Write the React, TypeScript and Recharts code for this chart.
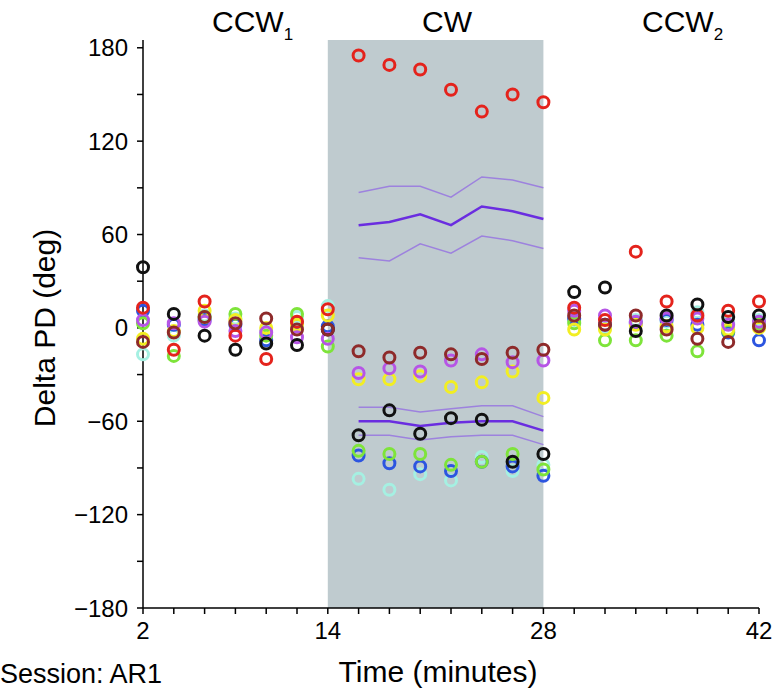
import React from "react";
import { ScatterChart, Scatter, XAxis, YAxis, ReferenceArea } from "recharts";

// time points (minutes), one value per unit per time point
const times = [2, 4, 6, 8, 10, 12, 14, 16, 18, 20, 22, 24, 26, 28, 30, 32, 34, 36, 38, 40, 42];

const redVals = [13, -14, 17, -5, -20, 4, 12, 175, 169, 166, 153, 139, 150, 145, 13, 5, 49, 17, 8, 11, 17];
const blackVals = [39, 9, -5, -14, -10, -11, -1, -69, -53, -68, -58, -59, -86, -81, 23, 26, -2, 8, 15, 7, 8];
const brownVals = [-9, -3, 7, 3, 6, -1, -1, -15, -19, -16, -17, -20, -16, -14, 8, 2, 8, -1, -7, -9, 1];
const purpleVals = [5, 3, 4, -2, -3, -6, -7, -29, -26, -28, -21, -17, -22, -21, 11, 8, 4, 6, 6, 2, 4];
const yellowVals = [-7, -2, 11, 5, 0, 2, 8, -33, -33, -31, -38, -35, -28, -45, -1, -1, 2, 1, 0, -1, 0];
const greenVals = [3, -18, 7, 9, -5, 9, -12, -79, -81, -81, -88, -86, -81, -91, 3, -8, -8, -5, -15, -2, 3];
const cyanVals = [-17, -5, 8, 6, -2, 7, 14, -97, -104, -94, -98, -83, -92, -88, 5, 0, 5, 4, 10, 3, 5];
const blueVals = [11, 2, 5, 2, -8, 3, 1, -82, -87, -89, -92, -86, -89, -95, 6, 2, 3, 5, 2, -3, -8];

// population mean +/- spread during CW
const cwTimes = [16, 18, 20, 22, 24, 26, 28];
const posUpper = [87, 91, 91, 84, 97, 95, 90];
const posMean = [66, 68, 73, 66, 78, 75, 70];
const posLower = [45, 43, 54, 48, 59, 56, 51];
const negUpper = [-51, -51, -54, -52, -50, -50, -57];
const negMean = [-60, -60, -63, -61, -60, -60, -66];
const negLower = [-69, -69, -72, -70, -69, -69, -75];

const xTicks = times;
const xLabels = [2, 14, 28, 42];
const yTicks = [-180, -150, -120, -90, -60, -30, 0, 30, 60, 90, 120, 150, 180];

const units = [
  { name: "cyan", color: "#a5f0e2", vals: cyanVals },
  { name: "blue", color: "#2c55e0", vals: blueVals },
  { name: "green", color: "#7ee43a", vals: greenVals },
  { name: "yellow", color: "#f2ee22", vals: yellowVals },
  { name: "purple", color: "#b655e6", vals: purpleVals },
  { name: "red", color: "#e4231c", vals: redVals },
  { name: "black", color: "#111111", vals: blackVals },
  { name: "brown", color: "#8e2a2a", vals: brownVals },
];

const lines = [
  { name: "posUpper", vals: posUpper, color: "#9d82de", w: 1.5 },
  { name: "posMean", vals: posMean, color: "#6a2de0", w: 2.5 },
  { name: "posLower", vals: posLower, color: "#9d82de", w: 1.5 },
  { name: "negUpper", vals: negUpper, color: "#9d82de", w: 1.5 },
  { name: "negMean", vals: negMean, color: "#6a2de0", w: 2.5 },
  { name: "negLower", vals: negLower, color: "#9d82de", w: 1.5 },
];

const FONT = '"Liberation Sans", Arial, Helvetica, sans-serif';

const ring = (color: string) => (props: any) =>
  <circle cx={props.cx} cy={props.cy} r={5.5} fill="none" stroke={color} strokeWidth={3} />;

const noDot = () => <g />;

export default function App() {
  return (
    <div style={{ position: "absolute", left: 0, top: 0, width: 773, height: 692, background: "#fff", fontFamily: FONT }}>
      <ScatterChart width={773} height={692} margin={{ top: 40, right: 14, bottom: 0, left: 0 }}>
        <XAxis
          type="number"
          dataKey="x"
          domain={[2, 42]}
          ticks={xTicks}
          interval={0}
          tickFormatter={(v: number) => (xLabels.includes(v) ? String(v) : "")}
          height={84}
          tickSize={6}
          tickMargin={8}
          axisLine={{ stroke: "#000", strokeWidth: 1.5 }}
          tickLine={{ stroke: "#000", strokeWidth: 1.5 }}
          tick={{ fill: "#000", fontSize: 24, fontFamily: FONT }}
        />
        <YAxis
          type="number"
          dataKey="y"
          domain={[-180, 185]}
          ticks={yTicks}
          interval={0}
          allowDataOverflow
          tickFormatter={(v: number) => (v % 60 === 0 ? String(v).replace("-", "\u2212") : "")}
          width={143}
          tickSize={6}
          tickMargin={9}
          axisLine={{ stroke: "#000", strokeWidth: 1.5 }}
          tickLine={{ stroke: "#000", strokeWidth: 1.5 }}
          tick={{ fill: "#000", fontSize: 24, fontFamily: FONT }}
        />
        <ReferenceArea x1={14} x2={28} y1={-180} y2={185} fill="#bfcbcf" fillOpacity={1} stroke="none" />
        {lines.map((l) => (
          <Scatter
            key={l.name}
            data={cwTimes.map((t, i) => ({ x: t, y: l.vals[i] }))}
            line={{ stroke: l.color, strokeWidth: l.w }}
            shape={noDot}
            isAnimationActive={false}
          />
        ))}
        {units.map((u) => (
          <Scatter
            key={u.name}
            data={times.map((t, i) => ({ x: t, y: u.vals[i] }))}
            shape={ring(u.color)}
            isAnimationActive={false}
          />
        ))}
      </ScatterChart>
      <svg width={773} height={692} style={{ position: "absolute", left: 0, top: 0, pointerEvents: "none" }}>
        <g fontFamily={FONT} fill="#000">
          <text x={212} y={32} fontSize={30}>
            CCW<tspan fontSize={17} dy={8}>1</tspan>
          </text>
          <text x={447} y={32} fontSize={30} textAnchor="middle">CW</text>
          <text x={642} y={32} fontSize={30}>
            CCW<tspan fontSize={17} dy={8}>2</tspan>
          </text>
          <text x={55} y={328} fontSize={30} textAnchor="middle" transform="rotate(-90 55 328)">
            Delta PD (deg)
          </text>
          <text x={438} y={682} fontSize={30} textAnchor="middle">Time (minutes)</text>
          <text x={0} y={683} fontSize={27}>Session: AR1</text>
        </g>
      </svg>
    </div>
  );
}
